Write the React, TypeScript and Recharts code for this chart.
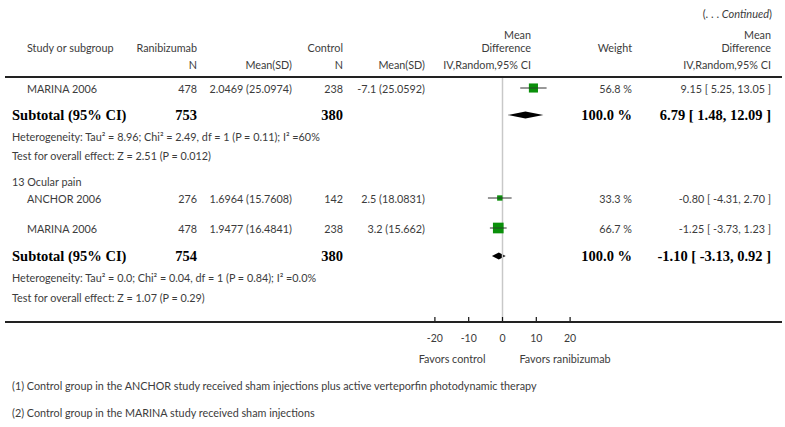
import React from 'react';
import { ComposedChart, Scatter, ErrorBar, XAxis, YAxis, ReferenceLine, ReferenceArea } from 'recharts';

const studyNames = ['MARINA 2006', 'ANCHOR 2006', 'MARINA 2006'];
const ranibizumabN = [478, 276, 478];
const ranibizumabMeanSd = ['2.0469 (25.0974)', '1.6964 (15.7608)', '1.9477 (16.4841)'];
const controlN = [238, 142, 238];
const controlMeanSd = ['-7.1 (25.0592)', '2.5 (18.0831)', '3.2 (15.662)'];
const meanDiff = [9.15, -0.8, -1.25];
const ciLow = [5.25, -4.31, -3.73];
const ciHigh = [13.05, 2.7, 1.23];
const weights = [56.8, 33.3, 66.7];

const subtotalRanN = [753, 754];
const subtotalCtlN = [380, 380];
const subtotalMd = [6.79, -1.1];
const subtotalLow = [1.48, -3.13];
const subtotalHigh = [12.09, 0.92];
const heterogeneity = [
  'Heterogeneity: Tau² = 8.96; Chi² = 2.49, df = 1 (P = 0.11); I² =60%',
  'Heterogeneity: Tau² = 0.0; Chi² = 0.04, df = 1 (P = 0.84); I² =0.0%',
];
const overallTests = ['Test for overall effect: Z = 2.51 (P = 0.012)', 'Test for overall effect: Z = 1.07 (P = 0.29)'];
const groupTitles = ['13 Ocular pain'];
const xTicks = [-20, -10, 0, 10, 20];
const footnotes = [
  '(1) Control group in the ANCHOR study received sham injections plus active verteporfin photodynamic therapy',
  '(2) Control group in the MARINA study received sham injections',
];

// layout (pixels)
const W = 785;
const H = 427;
const PLOT_TOP = 77;
const AXIS_Y = 322;
const studyRowY = [88, 198, 228];
const subtotalRowY = [115, 256];
const hetRowY = [136, 277];
const testRowY = [155, 297];
const groupRowY = [181];
const COL = { name: 27, left: 12, rN: 197, rMs: 292, cN: 343, cMs: 425, md: 531, weight: 632, ci: 771 };

const SANS = 'Lato, "DejaVu Sans", sans-serif';
const SERIF = '"Liberation Serif", "DejaVu Serif", serif';
const TXT = '#3c3c3c';
const GREEN = '#0a900a';

const fmtCi = (m: number, l: number, h: number) => `${m.toFixed(2)} [ ${l.toFixed(2)}, ${h.toFixed(2)} ]`;

const studyData = meanDiff.map((m, i) => ({
  x: m,
  y: studyRowY[i],
  err: [m - ciLow[i], ciHigh[i] - m],
  w: weights[i],
}));

const Square = (props: any) => {
  const { cx, cy, payload } = props;
  const s = payload.w * 0.16;
  return (
    <g>
      <rect x={cx - s / 2} y={cy - s / 2} width={s} height={s} fill={GREEN} />
      <line x1={cx - s / 2} x2={cx + s / 2} y1={cy} y2={cy} stroke="#333" strokeWidth={0.8} />
    </g>
  );
};

const Diamond = (props: any) => {
  const { x, y, width, height, frac } = props;
  const mx = x + width * frac;
  const my = y + height / 2;
  return <polygon points={`${x},${my} ${mx},${y} ${x + width},${my} ${mx},${y + height}`} fill="#000" />;
};

const T = (p: { x: number; y: number; end?: boolean; bold?: boolean; children: React.ReactNode }) => (
  <text
    x={p.x}
    y={p.y}
    textAnchor={p.end ? 'end' : 'start'}
    dominantBaseline="central"
    fontFamily={p.bold ? SERIF : SANS}
    fontWeight={p.bold ? 'bold' : 'normal'}
    fontSize={p.bold ? 14.5 : 10.8}
    fill={p.bold ? '#000' : TXT}
  >
    {p.children}
  </text>
);

function StudyRow({ i }: { i: number }) {
  const y = studyRowY[i];
  return (
    <g>
      <T x={COL.name} y={y}>{studyNames[i]}</T>
      <T x={COL.rN} y={y} end>{ranibizumabN[i]}</T>
      <T x={COL.rMs} y={y} end>{ranibizumabMeanSd[i]}</T>
      <T x={COL.cN} y={y} end>{controlN[i]}</T>
      <T x={COL.cMs} y={y} end>{controlMeanSd[i]}</T>
      <T x={COL.weight} y={y} end>{weights[i].toFixed(1)} %</T>
      <T x={COL.ci} y={y} end>{fmtCi(meanDiff[i], ciLow[i], ciHigh[i])}</T>
    </g>
  );
}

function SubtotalRows({ i }: { i: number }) {
  const y = subtotalRowY[i];
  return (
    <g>
      <T x={COL.left} y={y} bold>Subtotal (95% CI)</T>
      <T x={COL.rN} y={y} end bold>{subtotalRanN[i]}</T>
      <T x={COL.cN} y={y} end bold>{subtotalCtlN[i]}</T>
      <T x={COL.weight} y={y} end bold>100.0 %</T>
      <T x={COL.ci} y={y} end bold>{fmtCi(subtotalMd[i], subtotalLow[i], subtotalHigh[i])}</T>
      <T x={COL.left} y={hetRowY[i]}>{heterogeneity[i]}</T>
      <T x={COL.left} y={testRowY[i]}>{overallTests[i]}</T>
    </g>
  );
}

export default function App() {
  const zeroX = 418 + (0 - -25) * ((W - 418 - 198) / 50);
  return (
    <div style={{ position: 'absolute', left: 0, top: 0, width: W, height: H, background: '#fff' }}>
      <ComposedChart
        width={W}
        height={H}
        margin={{ top: PLOT_TOP, right: 198, bottom: H - AXIS_Y - 40, left: 418 }}
        style={{ position: 'absolute', left: 0, top: 0 }}
      >
        <XAxis
          type="number"
          dataKey="x"
          domain={[-25, 25]}
          ticks={xTicks}
          interval={0}
          axisLine={false}
          tickLine={{ stroke: '#111', strokeWidth: 1.2 }}
          tickSize={-5}
          tickMargin={18}
          height={40}
          tick={{ fontFamily: SANS, fontSize: 10.5, fill: TXT }}
        />
        <YAxis type="number" dataKey="y" domain={[PLOT_TOP, AXIS_Y]} reversed hide />
        <ReferenceLine x={0} stroke="#c8c8c8" strokeWidth={1.5} />
        {subtotalMd.map((m, i) => (
          <ReferenceArea
            key={i}
            x1={subtotalLow[i]}
            x2={subtotalHigh[i]}
            y1={subtotalRowY[i] - 3.5}
            y2={subtotalRowY[i] + 3.5}
            shape={(p: any) => <Diamond {...p} frac={(m - subtotalLow[i]) / (subtotalHigh[i] - subtotalLow[i])} />}
          />
        ))}
        <Scatter data={studyData} shape={Square} isAnimationActive={false}>
          <ErrorBar dataKey="err" direction="x" width={0} stroke="#333" strokeWidth={1} isAnimationActive={false} />
        </Scatter>
      </ComposedChart>
      <svg width={W} height={H} style={{ position: 'absolute', left: 0, top: 0, pointerEvents: 'none' }}>
        <text x={772} y={13} textAnchor="end" dominantBaseline="central" fontFamily={SANS} fontSize={11} fill={TXT}>
          (. . . <tspan fontStyle="italic">Continued</tspan>)
        </text>
        <T x={COL.name} y={47}>Study or subgroup</T>
        <T x={COL.rN} y={47} end>Ranibizumab</T>
        <T x={COL.cN} y={47} end>Control</T>
        <T x={COL.md} y={34} end>Mean</T>
        <T x={COL.md} y={47} end>Difference</T>
        <T x={COL.weight} y={47} end>Weight</T>
        <T x={COL.ci} y={34} end>Mean</T>
        <T x={COL.ci} y={47} end>Difference</T>
        <T x={COL.rN} y={64} end>N</T>
        <T x={COL.rMs} y={64} end>Mean(SD)</T>
        <T x={COL.cN} y={64} end>N</T>
        <T x={COL.cMs} y={64} end>Mean(SD)</T>
        <T x={COL.md} y={64} end>IV,Random,95% CI</T>
        <T x={COL.ci} y={64} end>IV,Random,95% CI</T>
        <line x1={5} x2={782} y1={PLOT_TOP} y2={PLOT_TOP} stroke="#222" strokeWidth={2} />

        <StudyRow i={0} />
        <SubtotalRows i={0} />
        <T x={COL.left} y={groupRowY[0]}>{groupTitles[0]}</T>
        <StudyRow i={1} />
        <StudyRow i={2} />
        <SubtotalRows i={1} />

        <line x1={5} x2={782} y1={AXIS_Y} y2={AXIS_Y} stroke="#222" strokeWidth={2} />
        <T x={zeroX - 17} y={358} end>Favors control</T>
        <T x={zeroX + 17} y={358}>Favors ranibizumab</T>
        <T x={COL.left} y={385}>{footnotes[0]}</T>
        <T x={COL.left} y={412}>{footnotes[1]}</T>
      </svg>
    </div>
  );
}
